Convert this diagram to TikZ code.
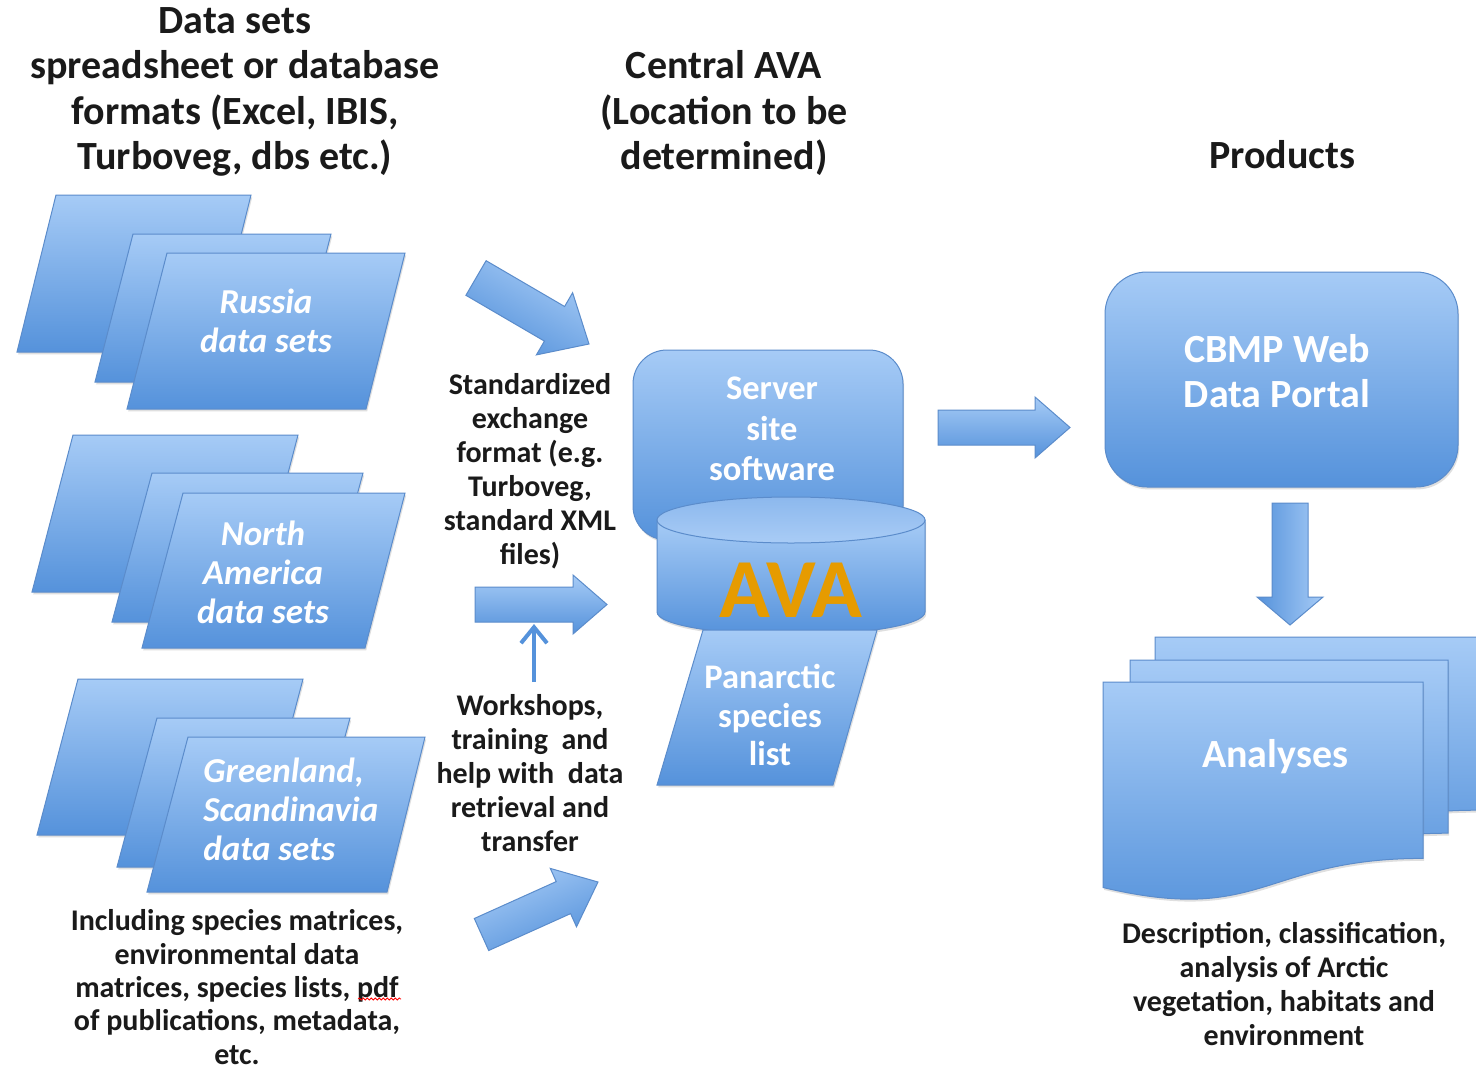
\documentclass[tikz,border=0pt]{standalone}
\usepackage{fontspec}
\setmainfont{Carlito}
\usetikzlibrary{shadows,arrows.meta,decorations.pathmorphing}
\definecolor{topblue}{HTML}{A6CBF6}
\definecolor{botblue}{HTML}{5592DB}
\definecolor{edgeblue}{HTML}{5B8CCB}
\definecolor{avaorange}{HTML}{E69B00}
\definecolor{txt}{HTML}{1A1A1A}
\definecolor{cyltop}{HTML}{8CB8ED}
\definecolor{cylbot}{HTML}{A9CCF6}
\begin{document}
\begin{tikzpicture}[x=0.5pt,y=-0.5pt,
  shp/.style={draw=edgeblue, line width=0.5pt, top color=topblue, bottom color=botblue,
    drop shadow={shadow xshift=0.6pt, shadow yshift=-1.2pt, opacity=0.25}},
  arr/.style={draw=edgeblue, line width=0.5pt, top color=topblue, bottom color=botblue},
  ttl/.style={font=\bfseries\fontsize{20}{22.8}\selectfont, text=txt, align=center, inner sep=0pt},
  midtxt/.style={font=\bfseries\fontsize{15}{17}\selectfont, text=txt, align=center, inner sep=0pt},
  dstxt/.style={font=\bfseries\itshape\fontsize{17.5}{19.5}\selectfont, text=white, align=center, inner sep=0pt},
  wtxt/.style={font=\bfseries\fontsize{17.25}{20.25}\selectfont, text=white, align=center, inner sep=0pt},
  bigw/.style={font=\bfseries\fontsize{20}{22.5}\selectfont, text=white, align=center, inner sep=0pt},
  thinarr/.style={draw=botblue, line width=2pt, -{Straight Barb[length=8pt,width=13pt]}}
]
\useasboundingbox (0,0) rectangle (1476,1070);
\fill[white] (0,0) rectangle (1476,1070);

% ---------- titles ----------
\node[ttl] (dstitle) at (235,92) {Data sets\\spreadsheet or database\\formats (Excel, IBIS,\\Turboveg, dbs etc.)};
\node[ttl] (cavatitle) at (724,113) {Central AVA\\(Location to be\\determined)};
\node[ttl] (prodtitle) at (1282,155) {Products};

% ---------- Russia stack ----------
\path[shp] (56,195) -- (251,195) -- (212,352) -- (17,352) -- cycle;
\path[shp] (133,234) -- (331,234) -- (293,382) -- (95,382) -- cycle;
\path[shp] (167,253) -- (405,253) -- (366,409) -- (127,409) -- cycle;
\node[dstxt] (russia) at (266,321) {Russia\\data sets};

% ---------- North America stack ----------
\path[shp] (73,435) -- (298,435) -- (257,592) -- (32,592) -- cycle;
\path[shp] (152,473) -- (363,473) -- (323,622) -- (112,622) -- cycle;
\path[shp] (183,493) -- (405,493) -- (365,648) -- (142,648) -- cycle;
\node[dstxt] (na) at (263,572) {North\\America\\data sets};

% ---------- Greenland stack ----------
\path[shp] (78,679) -- (303,679) -- (262,835) -- (37,835) -- cycle;
\path[shp] (157,718) -- (350,718) -- (310,867) -- (117,867) -- cycle;
\path[shp] (188,737) -- (425,737) -- (387,892) -- (147,892) -- cycle;
\node[dstxt, align=left, anchor=west] (gl) at (203,809) {Greenland,\\Scandinavia\\data sets};

% ---------- bottom-left note ----------
\node[midtxt, font=\bfseries\fontsize{15}{16.7}\selectfont] (incl) at (237,987) {Including species matrices,\\environmental data\\matrices, species lists, pdf\\of publications, metadata,\\etc.};
\draw[red, line width=0.4pt, decorate, decoration={snake, amplitude=0.5pt, segment length=2pt}] (358,999) -- (401,999);

% ---------- middle block arrows ----------
\path[arr, shading angle=-29] (486.1,260.7) -- (564.6,306.5) -- (572.6,292.7) -- (589,344) -- (536.4,354.9) -- (544.4,341.1) -- (465.9,295.3) -- cycle;
\path[arr] (475,587) -- (573,587) -- (573,575) -- (607,604.5) -- (573,634) -- (573,622) -- (475,622) -- cycle;
\path[arr, shading angle=24] (474.3,918.5) -- (556.2,881.6) -- (550.3,868.4) -- (598,882) -- (576.5,926.8) -- (570.6,913.6) -- (488.7,950.5) -- cycle;

\node[midtxt] (std) at (530,471) {Standardized\\exchange\\format (e.g.\\Turboveg,\\standard XML\\files)};
\node[midtxt] (ws) at (530,773) {Workshops,\\training\ \ and\\help with\ \ data\\retrieval and\\transfer};
\coordinate (wsTop) at (534,682);
\coordinate (harrBottom) at (534,624);
\draw[thinarr] (wsTop) -- (harrBottom);

% ---------- central AVA ----------
\path[shp, rounded corners=17pt] (633,350) rectangle (903,540);
\node[wtxt] (server) at (772,429) {Server\\site\\software};
\path[shp] (657,520) -- (657,612) arc[start angle=180, end angle=0, x radius=134, y radius=23] -- (925,520) -- cycle;
\path[draw=edgeblue, line width=0.5pt, top color=cyltop, bottom color=cylbot] (791,520) ellipse[x radius=134, y radius=23];
\node[text=avaorange, font=\bfseries\fontsize{42}{44}\selectfont, inner sep=0pt] (ava) at (791,590) {AVA};
\path[shp] (703,630) -- (877,630) -- (833,785) -- (657,785) -- cycle;
\node[wtxt, font=\bfseries\fontsize{17.25}{19.25}\selectfont] (pan) at (770,715) {Panarctic\\species\\list};

% ---------- right arrow ----------
\path[arr] (938,410) -- (1035,410) -- (1035,397) -- (1070,427.5) -- (1035,458) -- (1035,445) -- (938,445) -- cycle;

% ---------- CBMP portal ----------
\path[shp, rounded corners=21pt] (1105,272) rectangle (1458,487);
\node[bigw] (cbmp) at (1277,371) {CBMP Web\\Data Portal};

% ---------- down arrow ----------
\path[arr, shading angle=-90] (1272,503) -- (1272,597) -- (1257,597) -- (1290,625) -- (1323,597) -- (1308,597) -- (1308,503) -- cycle;

% ---------- analyses documents ----------
\path[shp] (1155,637) -- (1477,637) -- (1477,810.2) .. controls (1316,810.2) and (1316,876.1) .. (1155,838.7) -- cycle;
\path[shp] (1130,660) -- (1448,660) -- (1448,833.2) .. controls (1289,833.2) and (1289,899.1) .. (1130,861.7) -- cycle;
\path[shp] (1103,682) -- (1423,682) -- (1423,858.4) .. controls (1263,858.4) and (1263,925.5) .. (1103,887.5) -- cycle;
\node[bigw] (analyses) at (1275,757) {Analyses};

\node[midtxt] (desc) at (1284,984) {Description, classification,\\analysis of Arctic\\vegetation, habitats and\\environment};
\end{tikzpicture}
\end{document}
